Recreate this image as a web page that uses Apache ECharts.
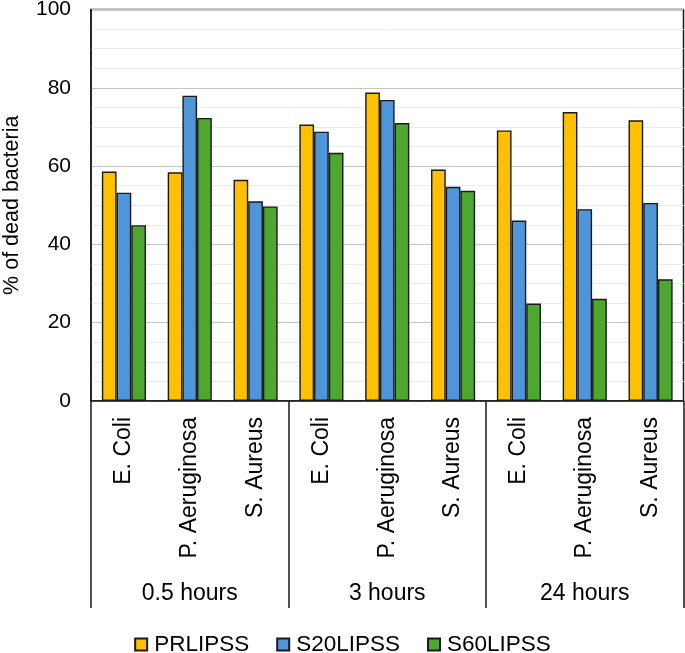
<!DOCTYPE html>
<html>
<head>
<meta charset="utf-8">
<script src="https://cdn.jsdelivr.net/npm/echarts@6/dist/echarts.min.js"></script>
<style>
html,body{margin:0;padding:0;background:#fff;}
#chart{width:685px;height:653px;}
</style>
</head>
<body>
<div id="chart"></div>
<script>
var categories = ['E. Coli','P. Aeruginosa','S. Aureus','E. Coli','P. Aeruginosa','S. Aureus','E. Coli','P. Aeruginosa','S. Aureus'];
var groups = ['0.5 hours','3 hours','24 hours'];
var seriesNames = ['PRLIPSS','S20LIPSS','S60LIPSS'];
var prlipss = [58.6, 58.4, 56.5, 70.6, 78.8, 59.1, 69.1, 73.8, 71.7];
var s20lipss = [53.2, 78.0, 51.0, 68.8, 76.9, 54.7, 46.1, 49.0, 50.6];
var s60lipss = [44.9, 72.3, 49.7, 63.4, 71.0, 53.7, 24.9, 26.1, 31.1];
var yTicks = [0, 20, 40, 60, 80, 100];

var colors = ['#FFC000','#4F95DA','#4EA72E'];
var font = 'Liberation Sans, Arial, sans-serif';
var chart = echarts.init(document.getElementById('chart'));
function bar(name, data, color){
  return {
    name: name, type: 'bar', data: data, xAxisIndex: 0,
    barGap: '0%', barCategoryGap: '33%',
    itemStyle: {color: color, borderColor: '#1a1a1a', borderWidth: 1.4}
  };
}
chart.setOption({
  animation: false,
  textStyle: {fontFamily: font},
  grid: {left: 91, right: 1.5, top: 9.5, bottom: 252, show: true, borderColor: '#1a1a1a', borderWidth: 1.5, outerBoundsMode: 'none'},
  legend: {
    data: seriesNames, left: 'center', top: 628,
    itemWidth: 12, itemHeight: 12, itemGap: 27,
    icon: 'rect',
    textStyle: {fontSize: 22.5, color: '#000', fontFamily: font, padding: [0, 0, 0, 2]}
  },
  xAxis: [
    {
      type: 'category', data: categories, position: 'bottom',
      axisLine: {show: true, lineStyle: {color: '#1a1a1a', width: 1.5}},
      axisTick: {show: false},
      axisLabel: {interval: 0, rotate: 90, margin: 16, fontSize: 23, color: '#000', fontFamily: font}
    },
    {
      type: 'category', data: groups, position: 'bottom',
      axisLine: {show: false},
      axisTick: {show: true, interval: 0, length: 207, lineStyle: {color: '#1a1a1a', width: 1.5}},
      axisLabel: {interval: 0, margin: 181, fontSize: 23, color: '#000', fontFamily: font}
    }
  ],
  yAxis: {
    type: 'value', min: yTicks[0], max: yTicks[yTicks.length-1], interval: 20,
    name: '% of dead bacteria', nameLocation: 'middle', nameGap: 68,
    nameTextStyle: {fontSize: 21.5, color: '#000', fontFamily: font},
    axisLine: {show: true, lineStyle: {color: '#1a1a1a', width: 1.5}},
    axisTick: {show: false},
    axisLabel: {fontSize: 21, color: '#000', margin: 20, fontFamily: font},
    splitLine: {show: true, lineStyle: {color: '#c4c4c4', width: 1.2}},
    minorTick: {show: false, splitNumber: 4},
    minorSplitLine: {show: true, lineStyle: {color: '#ebebeb', width: 1}}
  },
  series: [
    bar(seriesNames[0], prlipss, colors[0]),
    bar(seriesNames[1], s20lipss, colors[1]),
    bar(seriesNames[2], s60lipss, colors[2])
  ]
});
</script>
</body>
</html>
